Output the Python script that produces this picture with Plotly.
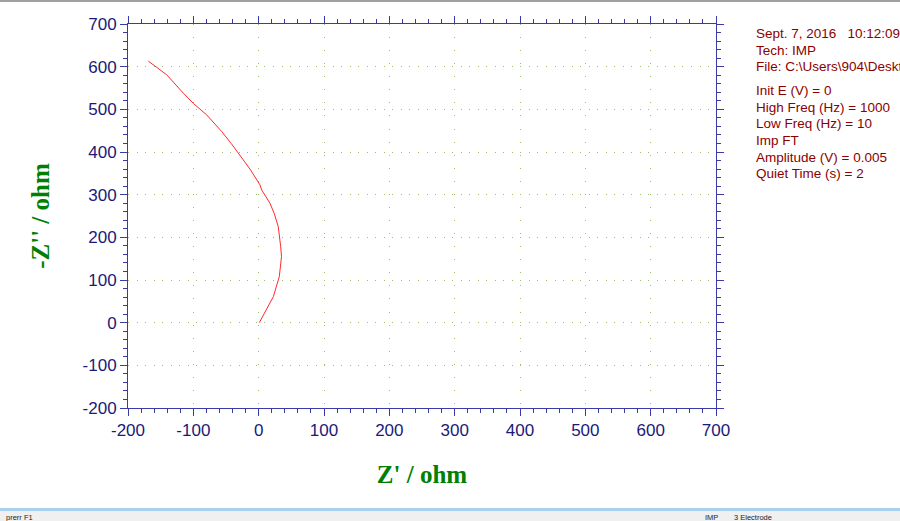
import plotly.graph_objects as go

# Nyquist data (Z' , -Z'')
z_real = [1, 6, 12, 22.5, 31.6, 34.2, 35, 33.7, 30, 24, 17.3, 4.6, 2, -13.3, -28.6, -42, -56.6, -79.6, -100, -115.3, -140.8, -168.9]
z_imag = [0, 14, 30, 61, 108, 139, 155, 178, 225, 255, 280, 311, 323, 360, 393, 420, 448, 487, 514, 538, 581, 613]

x_ticks = [-200, -100, 0, 100, 200, 300, 400, 500, 600, 700]
y_ticks = [-200, -100, 0, 100, 200, 300, 400, 500, 600, 700]

info_lines = [
    "Sept. 7, 2016   10:12:09",
    "Tech: IMP",
    "File: C:\\Users\\904\\Deskt",
    "Init E (V) = 0",
    "High Freq (Hz) = 1000",
    "Low Freq (Hz) = 10",
    "Imp FT",
    "Amplitude (V) = 0.005",
    "Quiet Time (s) = 2",
]
info_y_px = [33, 50, 67, 91, 107, 124, 140, 157, 173]

AX = "#3a3aa8"
TICKC = "#1a1a78"
GRID = "#9cbf6a"

L, R, T, B = 128, 716, 24, 408
W, H = 900, 521
PW, PH = R - L, B - T


def px(xp):
    return (xp - L) / PW


def py(yp):
    return (B - yp) / PH


fig = go.Figure()
fig.add_trace(go.Scatter(x=z_real, y=z_imag, mode="lines",
                         line=dict(color="#ff2a2a", width=1), showlegend=False,
                         hoverinfo="skip"))

common = dict(showline=True, linecolor=AX, linewidth=1, mirror="ticks",
              ticks="outside", ticklen=7, tickcolor=AX, tickwidth=1,
              tickfont=dict(family="Liberation Sans, Arial", size=17, color=TICKC),
              showgrid=True, gridcolor=GRID, gridwidth=1, zeroline=False,
              minor=dict(ticks="outside", ticklen=4, tickcolor=AX, dtick=20, showgrid=False))

fig.update_xaxes(range=[-200, 700], tickvals=x_ticks, ticktext=[str(v) for v in x_ticks],
                 griddash="1px,12.07px",
                 title=dict(text="<b>Z' / ohm</b>", standoff=26,
                            font=dict(family="Liberation Serif, Times New Roman", size=25, color="#008000")),
                 **common)
fig.update_yaxes(range=[-200, 700], tickvals=y_ticks, ticktext=[str(v) for v in y_ticks],
                 griddash="1px,7.53px",
                 title=dict(text="<b>-Z'' / ohm</b>", standoff=25,
                            font=dict(family="Liberation Serif, Times New Roman", size=25, color="#008000")),
                 **common)

for txt, yp in zip(info_lines, info_y_px):
    fig.add_annotation(text=txt, xref="paper", yref="paper", x=px(754), y=py(yp),
                       xanchor="left", yanchor="middle", showarrow=False,
                       font=dict(family="Liberation Sans, Arial", size=13.5, color="#8b0000"))

# window chrome: top line and bottom status bar
fig.add_shape(type="rect", xref="paper", yref="paper", x0=px(0), x1=px(W), y0=py(2), y1=py(0),
              line=dict(width=0), fillcolor="#a0a0a0", layer="above")
fig.add_shape(type="rect", xref="paper", yref="paper", x0=px(0), x1=px(W), y0=py(521), y1=py(508),
              line=dict(width=0), fillcolor="#f0f0f0", layer="above")
fig.add_shape(type="rect", xref="paper", yref="paper", x0=px(0), x1=px(W), y0=py(511), y1=py(508),
              line=dict(width=0), fillcolor="#a9d0ee", layer="above")
for txt, xpix in [("prerr F1", 5), ("IMP", 704), ("3 Electrode", 733)]:
    fig.add_annotation(text=txt, xref="paper", yref="paper", x=px(xpix), y=py(511.5),
                       xanchor="left", yanchor="top", showarrow=False, borderpad=0,
                       font=dict(family="Liberation Sans, Arial", size=7.5, color="#222222"))

fig.update_layout(width=W, height=H, margin=dict(l=L, r=W - R, t=T, b=H - B),
                  paper_bgcolor="white", plot_bgcolor="white")

fig.write_html("out.html", config={"displayModeBar": False},
               post_script="document.body.style.margin='0px';document.body.style.overflow='hidden';")
